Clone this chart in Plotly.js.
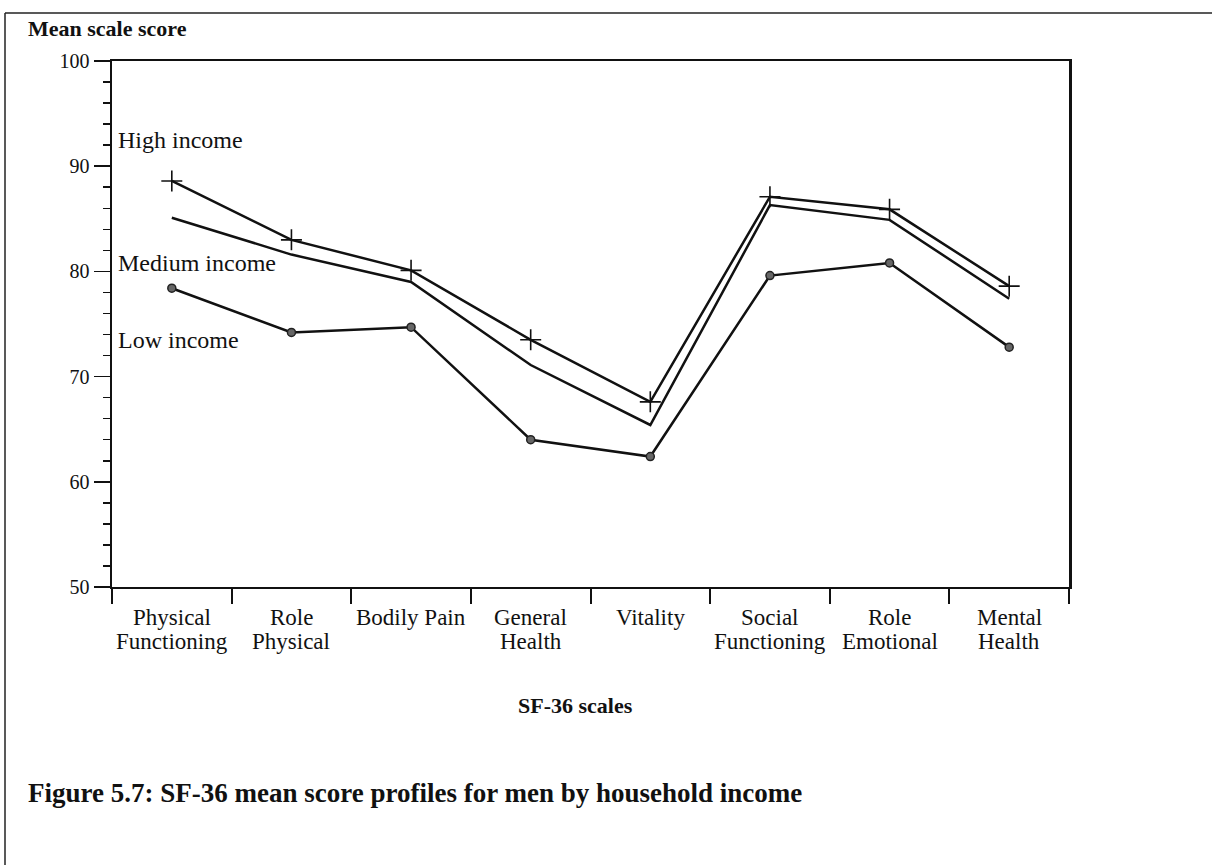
<!DOCTYPE html>
<html>
<head>
<meta charset="utf-8">
<script src="https://cdn.plot.ly/plotly-3.0.1.min.js"></script>
<style>
  html, body { margin: 0; padding: 0; background: #ffffff; }
  #chart { width: 1212px; height: 865px; }
</style>
</head>
<body>
<div id="chart"></div>
<script>
// ---- data ----
const categories = ['Physical Functioning', 'Role Physical', 'Bodily Pain', 'General Health',
                    'Vitality', 'Social Functioning', 'Role Emotional', 'Mental Health'];
const tickLine1 = ['Physical', 'Role', 'Bodily Pain', 'General', 'Vitality', 'Social', 'Role', 'Mental'];
const tickLine2 = ['Functioning', 'Physical', '', 'Health', '', 'Functioning', 'Emotional', 'Health'];
const highIncome   = [88.6, 83.0, 80.1, 73.5, 67.6, 87.1, 85.9, 78.6];
const mediumIncome = [85.1, 81.6, 79.0, 71.1, 65.4, 86.3, 84.9, 77.4];
const lowIncome    = [78.4, 74.2, 74.7, 64.0, 62.4, 79.6, 80.8, 72.8];
const seriesNames  = ['High income', 'Medium income', 'Low income'];
const seriesLabelY = [92.5, 80.8, 73.5];
const yTickVals = [50, 60, 70, 80, 90, 100];

const FONT = 'Liberation Serif, Times New Roman, serif';

const traces = [
  {
    x: categories, y: highIncome, name: seriesNames[0], type: 'scatter', mode: 'lines+markers',
    line: { color: '#111', width: 2.5 },
    marker: { symbol: 'cross-thin', size: 15, line: { color: '#111', width: 1.6 }, color: '#111' }
  },
  {
    x: categories, y: mediumIncome, name: seriesNames[1], type: 'scatter', mode: 'lines',
    line: { color: '#111', width: 2.5 }
  },
  {
    x: categories, y: lowIncome, name: seriesNames[2], type: 'scatter', mode: 'lines+markers',
    line: { color: '#111', width: 2.5 },
    marker: { symbol: 'circle', size: 8, color: '#666', line: { color: '#222', width: 1.5 } }
  }
];

// pixel helpers for plot-area-relative paper coordinates
const L = 112, R = 1069, T = 61, B = 587;
const px = v => (v - L) / (R - L);
const py = v => (B - v) / (B - T);

const annotations = [];
seriesNames.forEach((n, i) => {
  annotations.push({ text: n, xref: 'paper', yref: 'y', x: px(116), y: seriesLabelY[i],
    xanchor: 'left', yanchor: 'middle', showarrow: false, font: { family: FONT, size: 24, color: '#111' } });
});
categories.forEach((c, i) => {
  annotations.push({ text: tickLine1[i], xref: 'x', yref: 'paper', x: c, y: py(617),
    xanchor: 'center', yanchor: 'middle', showarrow: false, font: { family: FONT, size: 23, color: '#111' } });
  if (tickLine2[i]) {
    annotations.push({ text: tickLine2[i], xref: 'x', yref: 'paper', x: c, y: py(641),
      xanchor: 'center', yanchor: 'middle', showarrow: false, font: { family: FONT, size: 23, color: '#111' } });
  }
});
annotations.push({ text: '<b>Mean scale score</b>', xref: 'paper', yref: 'paper', x: px(26), y: py(28),
  xanchor: 'left', yanchor: 'middle', showarrow: false, font: { family: FONT, size: 22, color: '#111' } });
annotations.push({ text: '<b>SF-36 scales</b>', xref: 'paper', yref: 'paper', x: px(575), y: py(706),
  xanchor: 'center', yanchor: 'middle', showarrow: false, font: { family: FONT, size: 22, color: '#111' } });
annotations.push({ text: '<b>Figure 5.7: SF-36 mean score profiles for men by household income</b>',
  xref: 'paper', yref: 'paper', x: px(26), y: py(793),
  xanchor: 'left', yanchor: 'middle', showarrow: false, font: { family: FONT, size: 27, color: '#111' } });

const layout = {
  width: 1212, height: 865,
  margin: { l: L, r: 1212 - R, t: T, b: 865 - B, pad: 0 },
  paper_bgcolor: '#ffffff', plot_bgcolor: '#ffffff',
  showlegend: false,
  font: { family: FONT, color: '#111' },
  xaxis: {
    type: 'category', range: [-0.5, 7.5], tickson: 'boundaries',
    showline: true, linecolor: '#111', linewidth: 2, mirror: true,
    ticks: 'outside', ticklen: 15, tickwidth: 2, tickcolor: '#111',
    showticklabels: false, showgrid: false, zeroline: false, fixedrange: true
  },
  yaxis: {
    range: [50, 100], tickvals: yTickVals, ticktext: yTickVals.map(String),
    showline: true, linecolor: '#111', linewidth: 2.5, mirror: true,
    ticks: 'outside', ticklen: 16, tickwidth: 1.5, tickcolor: '#111',
    tickfont: { family: FONT, size: 20, color: '#111' },
    minor: { dtick: 2, ticks: 'outside', ticklen: 7, tickwidth: 1.5, tickcolor: '#111', showgrid: false },
    showgrid: false, zeroline: false, fixedrange: true
  },
  shapes: [
    { type: 'line', xref: 'paper', yref: 'paper', x0: px(5), x1: px(1212), y0: py(13), y1: py(13),
      line: { color: '#222', width: 1.5 } },
    { type: 'line', xref: 'paper', yref: 'paper', x0: px(5), x1: px(5), y0: py(13), y1: py(865),
      line: { color: '#222', width: 1.5 } }
  ],
  annotations: annotations
};

Plotly.newPlot('chart', traces, layout, { displayModeBar: false, staticPlot: true });
</script>
</body>
</html>
